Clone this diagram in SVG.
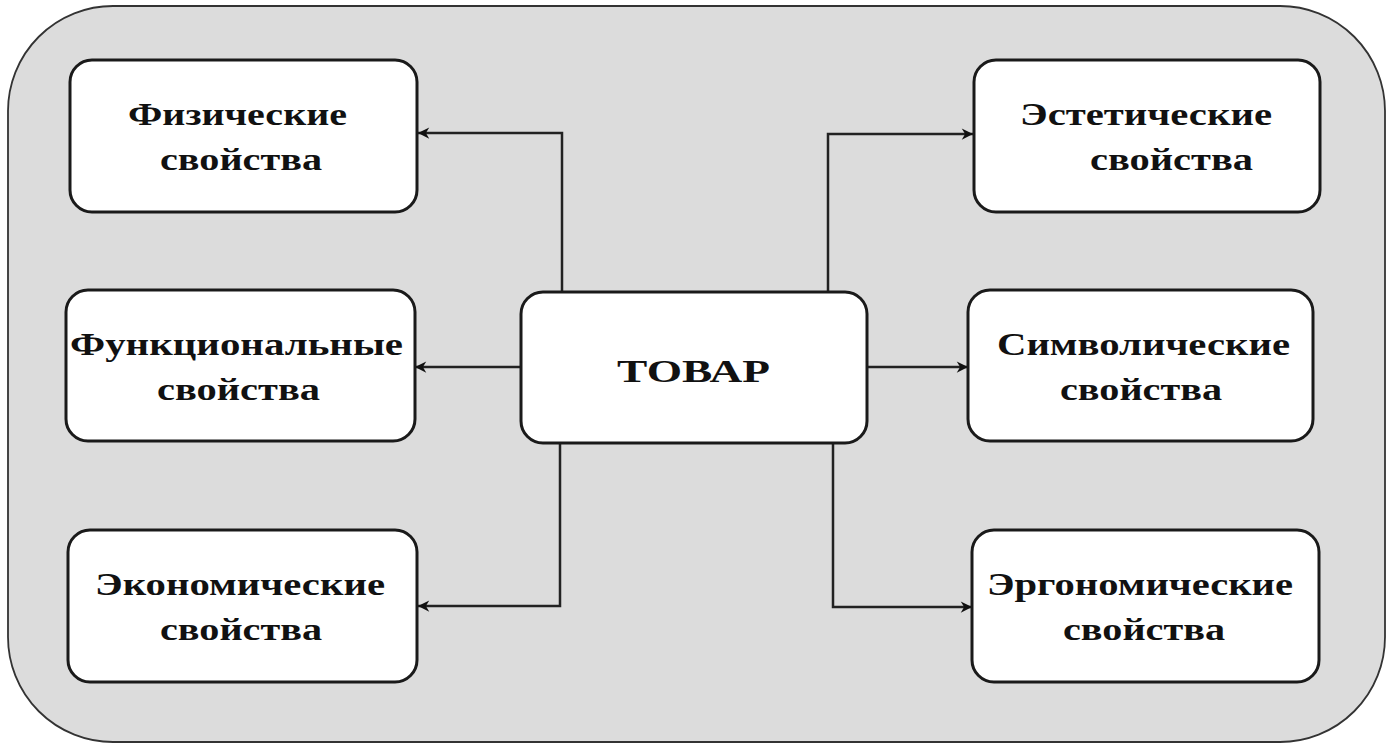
<svg xmlns="http://www.w3.org/2000/svg" width="1393" height="747" viewBox="0 0 1393 747">
<defs>
<style>
.box{fill:#ffffff;stroke:#1a1a1a;stroke-width:3}
.t{font-family:"Liberation Serif","Times New Roman",serif;font-weight:bold;font-size:31px;fill:#111}
.c{fill:none;stroke:#222;stroke-width:2.5}
</style>
<marker id="ah" viewBox="0 0 10 10" refX="10" refY="5" markerWidth="6" markerHeight="4.5" orient="auto" markerUnits="strokeWidth">
<path d="M0,0 L10,5 L0,10 L3,5 Z" fill="#111"/>
</marker>
</defs>
<rect x="0" y="0" width="1393" height="747" fill="#ffffff"/>
<rect id="frame" x="8" y="6" width="1377" height="736" rx="105" ry="105" fill="#dcdcdc" stroke="#333" stroke-width="1.8"/>
<g id="connectors">
<path class="c" d="M562,292 V133 H418" marker-end="url(#ah)"/>
<path class="c" d="M521,367 H415" marker-end="url(#ah)"/>
<path class="c" d="M560,443 V606 H418" marker-end="url(#ah)"/>
<path class="c" d="M828,292 V134 H973" marker-end="url(#ah)"/>
<path class="c" d="M867,367 H968" marker-end="url(#ah)"/>
<path class="c" d="M833,443 V607 H972" marker-end="url(#ah)"/>
</g>
<g id="n-tovar">
<rect class="box" x="521" y="292" width="346" height="151" rx="22"/>
<text class="t" x="617" y="382" font-size="38" textLength="153" lengthAdjust="spacingAndGlyphs">ТОВАР</text>
</g>
<g id="n-phys">
<rect class="box" x="70" y="60" width="347" height="152" rx="22"/>
<text class="t" x="128" y="125" textLength="219" lengthAdjust="spacingAndGlyphs">Физические</text>
<text class="t" x="160" y="170" textLength="162" lengthAdjust="spacingAndGlyphs">свойства</text>
</g>
<g id="n-func">
<rect class="box" x="66" y="290" width="349" height="151" rx="22"/>
<text class="t" x="70" y="355" textLength="333" lengthAdjust="spacingAndGlyphs">Функциональные</text>
<text class="t" x="157" y="400" textLength="163" lengthAdjust="spacingAndGlyphs">свойства</text>
</g>
<g id="n-econ">
<rect class="box" x="68" y="530" width="349" height="152" rx="22"/>
<text class="t" x="95" y="595" textLength="290" lengthAdjust="spacingAndGlyphs">Экономические</text>
<text class="t" x="160" y="640" textLength="162" lengthAdjust="spacingAndGlyphs">свойства</text>
</g>
<g id="n-aest">
<rect class="box" x="974" y="60" width="346" height="152" rx="22"/>
<text class="t" x="1020" y="125" textLength="252" lengthAdjust="spacingAndGlyphs">Эстетические</text>
<text class="t" x="1090" y="170" textLength="163" lengthAdjust="spacingAndGlyphs">свойства</text>
</g>
<g id="n-symb">
<rect class="box" x="968" y="290" width="345" height="151" rx="22"/>
<text class="t" x="997" y="355" textLength="293" lengthAdjust="spacingAndGlyphs">Символические</text>
<text class="t" x="1060" y="400" textLength="162" lengthAdjust="spacingAndGlyphs">свойства</text>
</g>
<g id="n-ergo">
<rect class="box" x="972" y="530" width="347" height="152" rx="22"/>
<text class="t" x="987" y="595" textLength="306" lengthAdjust="spacingAndGlyphs">Эргономические</text>
<text class="t" x="1063" y="640" textLength="162" lengthAdjust="spacingAndGlyphs">свойства</text>
</g>
</svg>
